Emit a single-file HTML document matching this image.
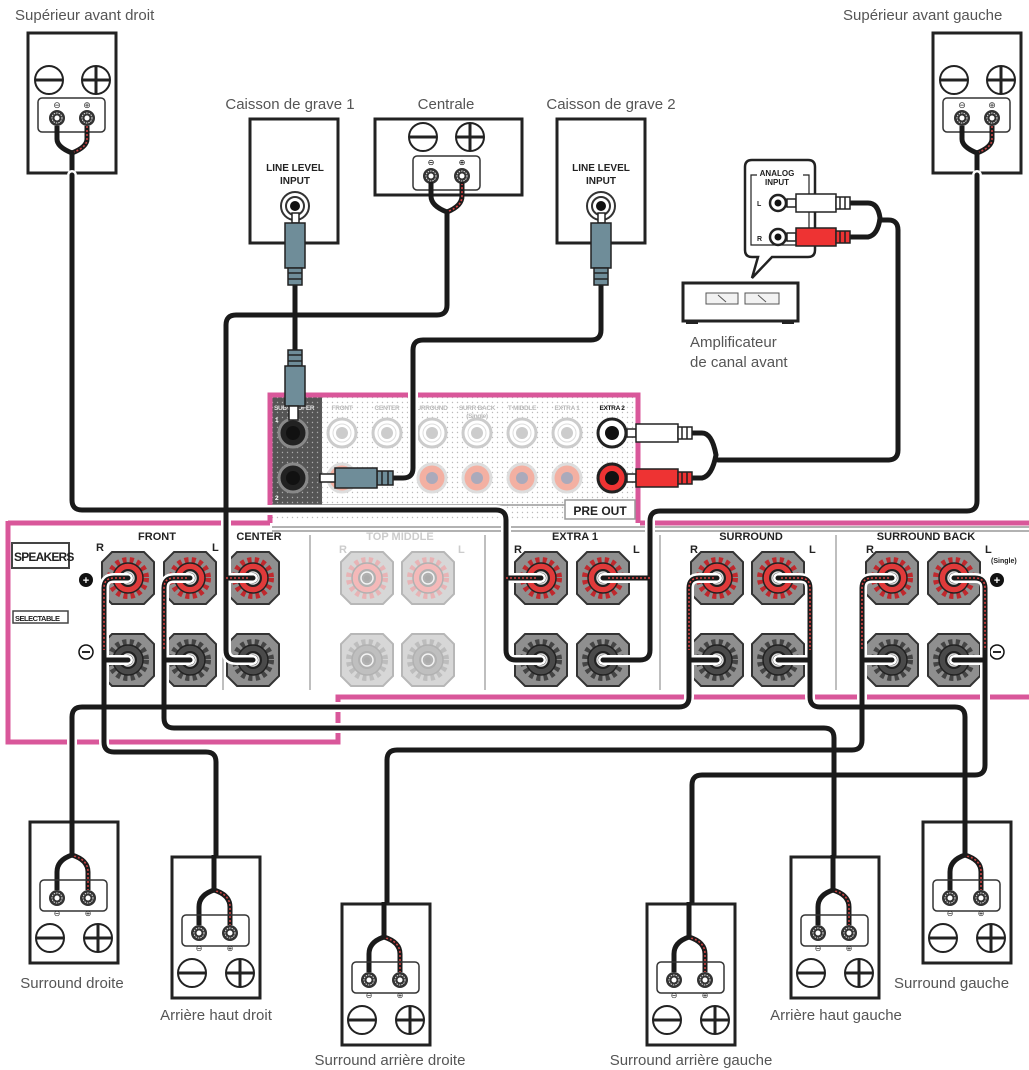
<!DOCTYPE html>
<html><head><meta charset="utf-8"><style>
html,body{margin:0;padding:0;background:#fff;}
svg{display:block;}
.lbl{font-family:"Liberation Sans",sans-serif;font-size:15px;fill:#555;}
.rb{font-family:"Liberation Sans",sans-serif;font-weight:bold;fill:#222;}
.pg{font-family:"Liberation Sans",sans-serif;font-weight:bold;font-size:6.5px;fill:#bbb;letter-spacing:-0.3px;}
</style></head><body>
<svg width="1029" height="1070" viewBox="0 0 1029 1070" xmlns="http://www.w3.org/2000/svg">
<defs>
<pattern id="dots" width="5" height="5" patternUnits="userSpaceOnUse"><circle cx="2.5" cy="2.5" r="0.7" fill="#bbb"/></pattern>
<pattern id="wdots" width="5" height="5" patternUnits="userSpaceOnUse"><rect width="5" height="5" fill="#555"/><circle cx="2.5" cy="2.5" r="0.7" fill="#aaa"/></pattern>
<g id="minus"><circle r="14" fill="#fff" stroke="#222" stroke-width="2"/><line x1="-13" y1="0" x2="13" y2="0" stroke="#222" stroke-width="3"/></g>
<g id="plus"><circle r="14" fill="#fff" stroke="#222" stroke-width="2"/><line x1="-13" y1="0" x2="13" y2="0" stroke="#222" stroke-width="3"/><line x1="0" y1="-13" x2="0" y2="13" stroke="#222" stroke-width="3"/></g>
<g id="sterm"><circle r="8" fill="#333"/><circle r="5" fill="none" stroke="#ddd" stroke-width="1" stroke-dasharray="1.5 1"/><circle r="2.5" fill="#fff"/></g>
<g id="spkT">
<rect x="0" y="0" width="88" height="140" fill="#fff" stroke="#222" stroke-width="3"/>
<use href="#minus" x="21" y="47"/><use href="#plus" x="68" y="47"/>
<rect x="10" y="65" width="67" height="34" rx="4" fill="#fff" stroke="#333" stroke-width="1.5"/>
<text x="29" y="75" font-size="9" text-anchor="middle" font-family="DejaVu Sans" fill="#333">⊖</text>
<text x="59" y="75" font-size="9" text-anchor="middle" font-family="DejaVu Sans" fill="#333">⊕</text>
<use href="#sterm" x="29" y="85"/><use href="#sterm" x="59" y="85"/>
<path d="M29,93 V106 Q29,114 44,120 V140" fill="none" stroke="#1a1a1a" stroke-width="5"/>
<path d="M59,93 V106 Q59,114 44,120" fill="none" stroke="#1a1a1a" stroke-width="5"/>
<path d="M59,93 V106 Q59,114 46,119" fill="none" stroke="#c44" stroke-width="1.6" stroke-dasharray="2 2"/>
</g>
<g id="spkB">
<rect x="0" y="0" width="88" height="141" fill="#fff" stroke="#222" stroke-width="3"/>
<path d="M42,33 Q27,38 27,50 V68" fill="none" stroke="#1a1a1a" stroke-width="5"/>
<path d="M42,33 Q58,38 58,50 V68" fill="none" stroke="#1a1a1a" stroke-width="5"/>
<path d="M44,34 Q58,38 58,50 V68" fill="none" stroke="#c44" stroke-width="1.6" stroke-dasharray="2 2"/>
<rect x="10" y="58" width="67" height="31" rx="4" fill="none" stroke="#333" stroke-width="1.5"/>
<use href="#sterm" x="27" y="76"/><use href="#sterm" x="58" y="76"/>
<text x="27" y="94" font-size="8" text-anchor="middle" font-family="DejaVu Sans" fill="#333">⊖</text>
<text x="58" y="94" font-size="8" text-anchor="middle" font-family="DejaVu Sans" fill="#333">⊕</text>
<use href="#minus" x="20" y="116"/><use href="#plus" x="68" y="116"/>
</g>
<polygon id="oct" points="-16,-26 16,-26 26,-16 26,16 16,26 -16,26 -26,16 -26,-16" stroke="#333" stroke-width="2"/>
<g id="tP"><use href="#oct" fill="#8f8f8f"/><circle r="18" fill="none" stroke="#c0282d" stroke-width="6" stroke-dasharray="4 3.2"/><circle r="15" fill="#e03a3a" stroke="#222" stroke-width="1.5"/><circle r="9" fill="#222"/><circle r="6" fill="none" stroke="#ddd" stroke-width="1.5"/><circle r="3" fill="#111"/></g>
<g id="tM"><use href="#oct" fill="#8f8f8f"/><circle r="18" fill="none" stroke="#444" stroke-width="6" stroke-dasharray="4 3.2"/><circle r="15" fill="#4a4a4a" stroke="#222" stroke-width="1.5"/><circle r="9" fill="#222"/><circle r="6" fill="none" stroke="#ddd" stroke-width="1.5"/><circle r="3" fill="#111"/></g>
<g id="jW"><circle r="14" fill="#fff" stroke="#ccc" stroke-width="3"/><circle r="9" fill="none" stroke="#ddd" stroke-width="1"/><circle r="6" fill="#ccc"/></g>
<g id="jR"><circle r="14" fill="#f3b0a2" stroke="#ddd" stroke-width="3"/><circle r="6" fill="#aab"/></g>
</defs>

<text class="lbl" x="15" y="20">Supérieur avant droit</text>
<text class="lbl" x="843" y="20">Supérieur avant gauche</text>
<text class="lbl" x="290" y="109" text-anchor="middle">Caisson de grave 1</text>
<text class="lbl" x="446" y="109" text-anchor="middle">Centrale</text>
<text class="lbl" x="611" y="109" text-anchor="middle">Caisson de grave 2</text>
<text class="lbl" x="690" y="347">Amplificateur</text>
<text class="lbl" x="690" y="367">de canal avant</text>
<text class="lbl" x="72" y="988" text-anchor="middle">Surround droite</text>
<text class="lbl" x="216" y="1020" text-anchor="middle">Arrière haut droit</text>
<text class="lbl" x="390" y="1065" text-anchor="middle">Surround arrière droite</text>
<text class="lbl" x="691" y="1065" text-anchor="middle">Surround arrière gauche</text>
<text class="lbl" x="836" y="1020" text-anchor="middle">Arrière haut gauche</text>
<text class="lbl" x="894" y="988">Surround gauche</text>

<use href="#spkT" x="28" y="33"/>
<use href="#spkT" x="933" y="33"/>

<rect x="250" y="119" width="88" height="124" fill="#fff" stroke="#222" stroke-width="3"/>
<text class="rb" x="295" y="171" font-size="10" text-anchor="middle">LINE LEVEL</text>
<text class="rb" x="295" y="184" font-size="10" text-anchor="middle">INPUT</text>
<circle cx="295" cy="206" r="14" fill="#fff" stroke="#333" stroke-width="2"/><circle cx="295" cy="206" r="9" fill="#fff" stroke="#333" stroke-width="2"/><circle cx="295" cy="206" r="5" fill="#111"/>
<rect x="557" y="119" width="88" height="124" fill="#fff" stroke="#222" stroke-width="3"/>
<text class="rb" x="601" y="171" font-size="10" text-anchor="middle">LINE LEVEL</text>
<text class="rb" x="601" y="184" font-size="10" text-anchor="middle">INPUT</text>
<circle cx="601" cy="206" r="14" fill="#fff" stroke="#333" stroke-width="2"/><circle cx="601" cy="206" r="9" fill="#fff" stroke="#333" stroke-width="2"/><circle cx="601" cy="206" r="5" fill="#111"/>

<rect x="375" y="119" width="147" height="76" fill="#fff" stroke="#222" stroke-width="3"/>
<use href="#minus" x="423" y="137"/><use href="#plus" x="470" y="137"/>
<rect x="413" y="156" width="67" height="34" rx="4" fill="#fff" stroke="#333" stroke-width="1.5"/>
<text x="431" y="165" font-size="8" text-anchor="middle" font-family="DejaVu Sans">⊖</text>
<text x="462" y="165" font-size="8" text-anchor="middle" font-family="DejaVu Sans">⊕</text>
<use href="#sterm" x="431" y="176"/><use href="#sterm" x="462" y="176"/>

<path d="M752,160 H808 Q815,160 815,167 V250 Q815,257 808,257 H772 L752,278 L758,257 H752 Q745,257 745,250 V167 Q745,160 752,160 Z" fill="#fff" stroke="#222" stroke-width="2.5"/>
<path d="M757,175 H751 V245 H809 V175 H803" fill="none" stroke="#222" stroke-width="1.2"/>
<text class="rb" x="777" y="176" font-size="8" text-anchor="middle">ANALOG</text>
<text class="rb" x="777" y="185" font-size="8" text-anchor="middle">INPUT</text>
<text class="rb" x="757" y="206" font-size="7">L</text>
<text class="rb" x="757" y="241" font-size="7">R</text>
<circle cx="778" cy="203" r="8" fill="#fff" stroke="#222" stroke-width="2.5"/><circle cx="778" cy="203" r="3.5" fill="#111"/>
<circle cx="778" cy="237" r="8" fill="#fff" stroke="#222" stroke-width="2.5"/><circle cx="778" cy="237" r="3.5" fill="#111"/>
<rect x="683" y="283" width="115" height="38" fill="#fff" stroke="#222" stroke-width="3"/>
<rect x="706" y="293" width="32" height="11" fill="#f2f2f2" stroke="#555"/><rect x="745" y="293" width="34" height="11" fill="#f2f2f2" stroke="#555"/>
<line x1="718" y1="295" x2="726" y2="302" stroke="#555"/><line x1="758" y1="295" x2="766" y2="302" stroke="#555"/>
<rect x="686" y="321" width="12" height="3" fill="#222"/><rect x="782" y="321" width="12" height="3" fill="#222"/>

<line x1="272" y1="527" x2="1029" y2="527" stroke="#999" stroke-width="1.5"/>
<line x1="272" y1="531" x2="1029" y2="531" stroke="#999" stroke-width="1.5"/>
<path d="M8,523 H270 M640,523 H1029 M8,521 V742 H338 V697 H1029" fill="none" stroke="#d9579a" stroke-width="5"/>
<line x1="223" y1="535" x2="223" y2="690" stroke="#aaa" stroke-width="1.5"/>
<line x1="310" y1="535" x2="310" y2="690" stroke="#aaa" stroke-width="1.5"/>
<line x1="485" y1="535" x2="485" y2="690" stroke="#aaa" stroke-width="1.5"/>
<line x1="660" y1="535" x2="660" y2="690" stroke="#aaa" stroke-width="1.5"/>
<line x1="836" y1="535" x2="836" y2="690" stroke="#aaa" stroke-width="1.5"/>
<rect x="12" y="543" width="57" height="25" fill="#fff" stroke="#444" stroke-width="2"/>
<text class="rb" x="14" y="561" font-size="12" letter-spacing="-0.8">SPEAKERS</text>
<rect x="13" y="611" width="55" height="12" fill="#fff" stroke="#444" stroke-width="1.5"/>
<text class="rb" x="15" y="621" font-size="7.5" letter-spacing="-0.5">SELECTABLE</text>
<circle cx="86" cy="580" r="7" fill="#111"/><text x="86" y="584" font-size="11" font-weight="bold" fill="#fff" text-anchor="middle" font-family="Liberation Sans">+</text>
<circle cx="86" cy="652" r="7" fill="#fff" stroke="#111" stroke-width="1.5"/><line x1="82" y1="652" x2="90" y2="652" stroke="#111" stroke-width="1.8"/>
<circle cx="997" cy="580" r="7" fill="#111"/><text x="997" y="584" font-size="11" font-weight="bold" fill="#fff" text-anchor="middle" font-family="Liberation Sans">+</text>
<circle cx="997" cy="652" r="7" fill="#fff" stroke="#111" stroke-width="1.5"/><line x1="993" y1="652" x2="1001" y2="652" stroke="#111" stroke-width="1.8"/>

<g font-size="11">
<text class="rb" x="157" y="540" text-anchor="middle">FRONT</text>
<text class="rb" x="259" y="540" text-anchor="middle">CENTER</text>
<text class="rb" x="400" y="540" text-anchor="middle" style="fill:#ccc">TOP MIDDLE</text>
<text class="rb" x="575" y="540" text-anchor="middle">EXTRA 1</text>
<text class="rb" x="751" y="540" text-anchor="middle">SURROUND</text>
<text class="rb" x="926" y="540" text-anchor="middle">SURROUND BACK</text>
<text class="rb" x="96" y="551">R</text><text class="rb" x="212" y="551">L</text>
<text class="rb" x="339" y="553" style="fill:#ccc">R</text><text class="rb" x="458" y="553" style="fill:#ccc">L</text>
<text class="rb" x="514" y="553">R</text><text class="rb" x="633" y="553">L</text>
<text class="rb" x="690" y="553">R</text><text class="rb" x="809" y="553">L</text>
<text class="rb" x="866" y="553">R</text><text class="rb" x="985" y="553">L</text>
</g>
<text class="rb" x="991" y="563" font-size="7" font-weight="normal">(Single)</text>

<use href="#tP" x="128" y="578"/><use href="#tP" x="190" y="578"/><use href="#tP" x="253" y="578"/>
<use href="#tM" x="128" y="660"/><use href="#tM" x="190" y="660"/><use href="#tM" x="253" y="660"/>
<g opacity="0.35"><use href="#tP" x="367" y="578"/><use href="#tP" x="428" y="578"/><use href="#tM" x="367" y="660"/><use href="#tM" x="428" y="660"/></g>
<use href="#tP" x="541" y="578"/><use href="#tP" x="603" y="578"/><use href="#tM" x="541" y="660"/><use href="#tM" x="603" y="660"/>
<use href="#tP" x="717" y="578"/><use href="#tP" x="778" y="578"/><use href="#tM" x="717" y="660"/><use href="#tM" x="778" y="660"/>
<use href="#tP" x="892" y="578"/><use href="#tP" x="954" y="578"/><use href="#tM" x="892" y="660"/><use href="#tM" x="954" y="660"/>

<rect x="270" y="395" width="368" height="125" fill="url(#dots)"/>
<rect x="272" y="397" width="50" height="108" fill="url(#wdots)"/>
<path d="M270,523 V395 H638 V523" fill="none" stroke="#d9579a" stroke-width="5"/>
<line x1="272" y1="505" x2="565" y2="505" stroke="#999" stroke-width="1.5"/>
<rect x="565" y="500" width="70" height="19" fill="#fff" stroke="#999" stroke-width="1.5"/>
<text class="rb" x="600" y="515" font-size="12" text-anchor="middle">PRE OUT</text>
<text class="pg" x="274" y="410" style="fill:#ddd">SUBWOOFER</text>
<text class="pg" x="342" y="410" text-anchor="middle">FRONT</text>
<text class="pg" x="387" y="410" text-anchor="middle">CENTER</text>
<text class="pg" x="430" y="410" text-anchor="middle">SURROUND</text>
<text class="pg" x="477" y="410" text-anchor="middle">SURR BACK</text>
<text class="pg" x="477" y="418" text-anchor="middle" font-size="6" font-weight="normal">(Single)</text>
<text class="pg" x="522" y="410" text-anchor="middle">T MIDDLE</text>
<text class="pg" x="567" y="410" text-anchor="middle">EXTRA 1</text>
<text class="pg" x="612" y="410" text-anchor="middle" style="fill:#111">EXTRA 2</text>
<text class="pg" x="275" y="422" style="fill:#fff">1</text>
<text class="pg" x="275" y="500" style="fill:#fff">2</text>
<use href="#jW" x="342" y="433"/><use href="#jW" x="387" y="433"/><use href="#jW" x="432" y="433"/><use href="#jW" x="477" y="433"/><use href="#jW" x="522" y="433"/><use href="#jW" x="567" y="433"/>
<use href="#jR" x="342" y="478"/><use href="#jR" x="432" y="478"/><use href="#jR" x="477" y="478"/><use href="#jR" x="522" y="478"/><use href="#jR" x="567" y="478"/>
<circle cx="293" cy="433" r="14" fill="#222" stroke="#888" stroke-width="3"/><circle cx="293" cy="433" r="7" fill="#111"/>
<circle cx="293" cy="478" r="14" fill="#222" stroke="#888" stroke-width="3"/><circle cx="293" cy="478" r="7" fill="#111"/>
<circle cx="612" cy="433" r="14" fill="#fff" stroke="#222" stroke-width="3"/><circle cx="612" cy="433" r="7" fill="#111"/>
<circle cx="612" cy="478" r="14" fill="#e33" stroke="#222" stroke-width="3"/><circle cx="612" cy="478" r="7" fill="#111"/>

<g fill="none" stroke-linejoin="round" stroke-linecap="round">
<g stroke="#fff" stroke-width="10">
<path d="M72,175 V500 Q72,510 82,510 H496 Q506,510 506,520 V650 Q506,660 516,660 H541 M506,578 H541"/>
<path d="M977,175 V501 Q977,511 967,511 H660 Q650,511 650,521 V650 Q650,660 640,660 H603 M650,578 H603"/>
<path d="M447,212 V305 Q447,315 437,315 H236 Q226,315 226,325 V650 Q226,660 236,660 H253 M226,578 H253"/>
<path d="M601,285 V330 Q601,340 591,340 H423 Q413,340 413,350 V468 Q413,478 403,478 H393"/>
<path d="M880,220 H888 Q898,220 898,230 V450 Q898,460 888,460 H718"/>
<path d="M128,578 H114 Q104,578 104,588 V742 Q104,752 114,752 H206 Q216,752 216,762 V857 M104,660 H128"/>
<path d="M190,578 H174 Q164,578 164,588 V718 Q164,728 174,728 H824 Q834,728 834,738 V857 M164,660 H190"/>
<path d="M717,578 H699 Q689,578 689,588 V697 Q689,707 679,707 H82 Q72,707 72,717 V822 M689,660 H717"/>
<path d="M778,578 H800 Q810,578 810,588 V697 Q810,707 820,707 H955 Q965,707 965,717 V822 M810,660 H778"/>
<path d="M892,578 H872 Q862,578 862,588 V740 Q862,750 852,750 H397 Q387,750 387,760 V904 M862,660 H892"/>
<path d="M954,578 H975 Q985,578 985,588 V765 Q985,775 975,775 H702 Q692,775 692,785 V904 M985,660 H954"/>
</g>
<g stroke="#1a1a1a" stroke-width="5">
<path d="M447,212 Q431,206 431,196 V184 M447,212 Q462,206 462,196 V184"/>
<path d="M72,175 V500 Q72,510 82,510 H496 Q506,510 506,520 V650 Q506,660 516,660 H541 M506,578 H541"/>
<path d="M977,175 V501 Q977,511 967,511 H660 Q650,511 650,521 V650 Q650,660 640,660 H603 M650,578 H603"/>
<path d="M447,212 V305 Q447,315 437,315 H236 Q226,315 226,325 V650 Q226,660 236,660 H253 M226,578 H253"/>
<path d="M295,285 V350"/>
<path d="M601,285 V330 Q601,340 591,340 H423 Q413,340 413,350 V468 Q413,478 403,478 H393"/>
<path d="M850,203 H868 Q878,203 880,218 Q878,235 868,237 H850 M880,220 H888 Q898,220 898,230 V450 Q898,460 888,460 H718 M692,433 H702 Q712,433 716,455 Q712,476 702,478 H692"/>
<path d="M128,578 H114 Q104,578 104,588 V742 Q104,752 114,752 H206 Q216,752 216,762 V890 M104,660 H128"/>
<path d="M190,578 H174 Q164,578 164,588 V718 Q164,728 174,728 H824 Q834,728 834,738 V890 M164,660 H190"/>
<path d="M717,578 H699 Q689,578 689,588 V697 Q689,707 679,707 H82 Q72,707 72,717 V855 M689,660 H717"/>
<path d="M778,578 H800 Q810,578 810,588 V697 Q810,707 820,707 H955 Q965,707 965,717 V855 M810,660 H778"/>
<path d="M892,578 H872 Q862,578 862,588 V740 Q862,750 852,750 H397 Q387,750 387,760 V937 M862,660 H892"/>
<path d="M954,578 H975 Q985,578 985,588 V765 Q985,775 975,775 H702 Q692,775 692,785 V937 M985,660 H954"/>
</g>
<g stroke="#d44" stroke-width="1.6" stroke-dasharray="2 2" stroke-linecap="butt">
<path d="M449,211 Q462,206 462,196 V184"/>
<path d="M506,578 H538 M650,578 H606 M226,578 H250"/>
<path d="M125,578 H114 Q104,578 104,588 V650"/>
<path d="M187,578 H174 Q164,578 164,588 V650"/>
<path d="M714,578 H699 Q689,578 689,588 V650"/>
<path d="M781,578 H800 Q810,578 810,588 V650"/>
<path d="M889,578 H872 Q862,578 862,588 V650"/>
<path d="M957,578 H975 Q985,578 985,588 V650"/>
</g>
</g>

<g stroke="#222" stroke-width="1.5">
<rect x="292" y="213" width="7" height="10" fill="#fff"/>
<rect x="285" y="223" width="20" height="45" fill="#6f8d99"/>
<rect x="288" y="268" width="14" height="17" fill="#6f8d99"/>
<line x1="288" y1="273" x2="302" y2="273"/><line x1="288" y1="279" x2="302" y2="279"/>
<rect x="598" y="213" width="7" height="10" fill="#fff"/>
<rect x="591" y="223" width="20" height="45" fill="#6f8d99"/>
<rect x="594" y="268" width="14" height="17" fill="#6f8d99"/>
<line x1="594" y1="273" x2="608" y2="273"/><line x1="594" y1="279" x2="608" y2="279"/>
<rect x="288" y="350" width="14" height="16" fill="#6f8d99"/>
<line x1="288" y1="355" x2="302" y2="355"/><line x1="288" y1="361" x2="302" y2="361"/>
<rect x="285" y="366" width="20" height="40" fill="#6f8d99"/>
<rect x="289" y="406" width="9" height="14" fill="#fff"/>
<rect x="377" y="471" width="16" height="14" fill="#6f8d99"/>
<line x1="382" y1="471" x2="382" y2="485"/><line x1="388" y1="471" x2="388" y2="485"/>
<rect x="335" y="468" width="42" height="20" fill="#6f8d99"/>
<rect x="320" y="474" width="15" height="8" fill="#fff"/>
<rect x="787" y="199" width="9" height="8" fill="#fff"/>
<rect x="796" y="194" width="40" height="18" fill="#fff"/>
<rect x="836" y="197" width="14" height="12" fill="#fff"/>
<line x1="840" y1="197" x2="840" y2="209"/><line x1="845" y1="197" x2="845" y2="209"/>
<rect x="787" y="233" width="9" height="8" fill="#fff"/>
<rect x="796" y="228" width="40" height="18" fill="#e33"/>
<rect x="836" y="231" width="14" height="12" fill="#e33"/>
<line x1="840" y1="231" x2="840" y2="243"/><line x1="845" y1="231" x2="845" y2="243"/>
<rect x="627" y="429" width="9" height="8" fill="#fff"/>
<rect x="636" y="424" width="42" height="18" fill="#fff"/>
<rect x="678" y="427" width="14" height="12" fill="#fff"/>
<line x1="682" y1="427" x2="682" y2="439"/><line x1="687" y1="427" x2="687" y2="439"/>
<rect x="627" y="474" width="9" height="8" fill="#fff"/>
<rect x="636" y="469" width="42" height="18" fill="#e33"/>
<rect x="678" y="472" width="14" height="12" fill="#e33"/>
<line x1="682" y1="472" x2="682" y2="484"/><line x1="687" y1="472" x2="687" y2="484"/>
</g>

<use href="#spkB" x="30" y="822"/>
<use href="#spkB" x="172" y="857"/>
<use href="#spkB" x="342" y="904"/>
<use href="#spkB" x="647" y="904"/>
<use href="#spkB" x="791" y="857"/>
<use href="#spkB" x="923" y="822"/>
<g stroke="#1a1a1a" stroke-width="5">
<line x1="72" y1="820" x2="72" y2="856"/>
<line x1="214" y1="855" x2="214" y2="891"/>
<line x1="384" y1="902" x2="384" y2="938"/>
<line x1="689" y1="902" x2="689" y2="938"/>
<line x1="833" y1="855" x2="833" y2="891"/>
<line x1="965" y1="820" x2="965" y2="856"/>
</g>
</svg>
</body></html>
